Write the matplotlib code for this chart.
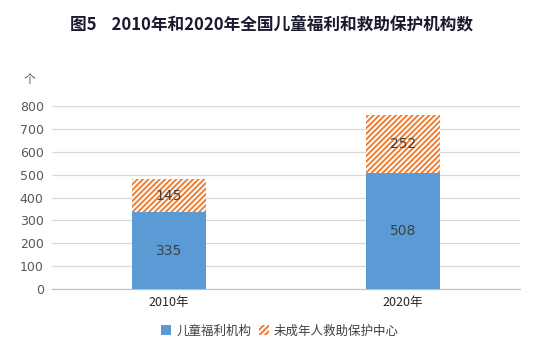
import numpy as np
import matplotlib.pyplot as plt

plt.rcParams['font.family'] = ['Noto Sans CJK SC', 'DejaVu Sans']
plt.rcParams['hatch.linewidth'] = 1.4

# 数据
years = ['2010年', '2020年']
welfare = [335, 508]
rescue = [145, 252]

blue = '#5B9BD5'
orange = '#ED7D31'
grey = '#595959'

fig = plt.figure(figsize=(5.44, 3.53), dpi=100)
ax = fig.add_axes([0.0956, 0.181, 0.860, 0.519])

x = np.arange(len(years))
w = 0.316
b1 = ax.bar(x, welfare, width=w, color=blue, label='儿童福利机构', zorder=3)
b2 = ax.bar(x, rescue, width=w, bottom=welfare, color='white', edgecolor=orange,
            hatch='//////', linewidth=0, label='未成年人救助保护中心', zorder=3)

for i in range(len(years)):
    ax.text(x[i], welfare[i] / 2, str(welfare[i]), ha='center', va='center',
            fontsize=10, color='#404040', family='DejaVu Sans', zorder=4)
    ax.text(x[i], welfare[i] + rescue[i] / 2, str(rescue[i]), ha='center', va='center',
            fontsize=10, color='#404040', family='DejaVu Sans', zorder=4)

ax.set_xlim(-0.5, 1.5)
ax.set_ylim(0, 800)
ax.set_yticks(np.arange(0, 801, 100))
ax.set_xticks(x)
ax.set_xticklabels(years, fontsize=9, color='#262626')
ax.tick_params(axis='y', length=0, labelsize=9, labelcolor=grey, pad=6)
ax.tick_params(axis='x', length=0, pad=5)
for lab in ax.get_yticklabels():
    lab.set_family('DejaVu Sans')
ax.grid(axis='y', color='#D9D9D9', linewidth=0.9, zorder=0)
for s in ['top', 'right', 'left']:
    ax.spines[s].set_visible(False)
ax.spines['bottom'].set_color('#BFBFBF')

fig.text(0.055, 0.775, '个', fontsize=8.5, color=grey, ha='center', va='center')
fig.text(0.5, 0.93, '图5    2010年和2020年全国儿童福利和救助保护机构数', fontsize=12,
         fontweight='bold', color='#1A1A2E', ha='center', va='center')

fig.legend(handles=[b1, b2], loc='center', bbox_to_anchor=(0.515, 0.062), ncol=2,
           frameon=False, fontsize=9, handlelength=0.8, handleheight=0.8,
           handletextpad=0.4, columnspacing=0.6, labelcolor='#404040')

fig.savefig('out.png', dpi=100)
